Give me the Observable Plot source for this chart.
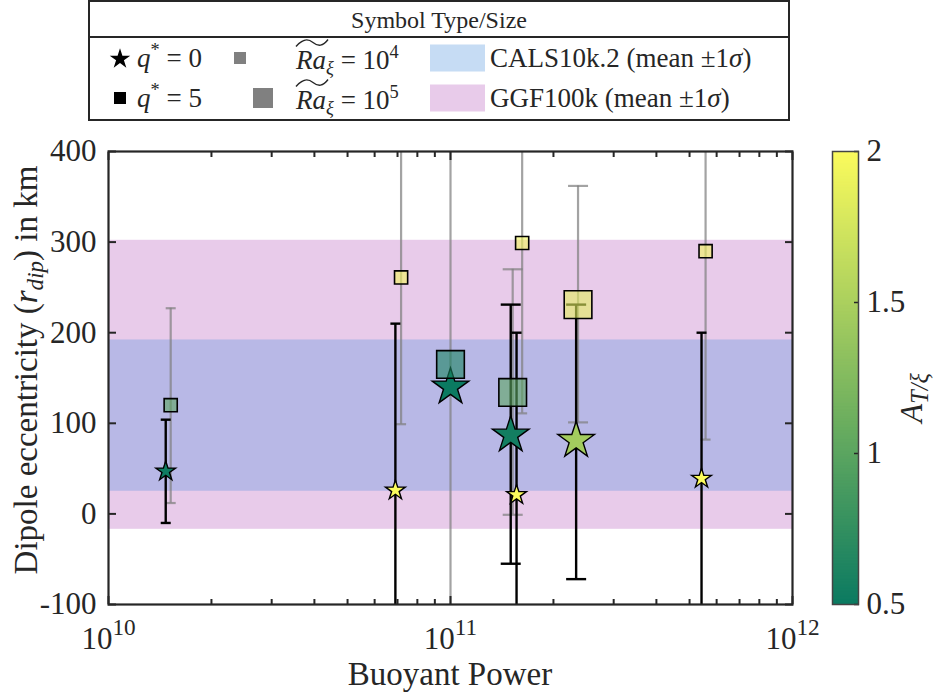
<!DOCTYPE html>
<html><head><meta charset="utf-8">
<script src="https://cdn.jsdelivr.net/npm/d3@7"></script>
<script src="https://cdn.jsdelivr.net/npm/@observablehq/plot@0.6"></script>
<style>
body{margin:0;background:#fff;width:940px;height:695px;position:relative;overflow:hidden;font-family:"Liberation Serif",Tinos,"Times New Roman","Nimbus Roman",FreeSerif,"Noto Serif","DejaVu Serif",Georgia,serif;color:#262626}
#main{position:absolute;left:0;top:0}
#cbar{position:absolute;left:820px;top:0}
#legend{position:absolute;left:88px;top:0;width:698px;height:117px;border:2px solid #262626;background:#fff;z-index:2}
#lhead{position:absolute;left:0;top:0;width:698px;height:34px;border-bottom:2px solid #262626;text-align:center;font-size:24px;line-height:36px}
.it{position:absolute;font-size:27px;white-space:nowrap;line-height:1;transform:translateY(-50%)}
.sw{position:absolute;width:55px;height:27px;transform:translateY(-50%)}
.mk{position:absolute;transform:translate(-50%,-50%)}
sup{font-size:0.68em;vertical-align:0.55em;line-height:0}
sub{font-size:0.68em;vertical-align:-0.3em;line-height:0}
.wt{position:relative;display:inline-block}
.wt svg{position:absolute;left:-2px;top:-9px}
</style></head>
<body>
<div id="legend">
  <div id="lhead">Symbol Type/Size</div>
  <svg class="mk" id="lgstar" style="left:30px;top:56px" width="22" height="22"></svg>
  <div class="it" style="left:47px;top:56px"><i>q</i><sup>*</sup> = 0</div>
  <div class="mk" style="left:150px;top:56px;width:12px;height:12px;background:#808080"></div>
  <div class="it" style="left:206px;top:58px"><span class="wt"><i>Ra</i><svg class="tilde" width="36" height="12"></svg></span><sub><i>ξ</i></sub> = 10<sup>4</sup></div>
  <div class="sw" style="left:340px;top:56px;background:#c6dcf4"></div>
  <div class="it" style="left:400px;top:56px">CALS10k.2 (mean ±1<i>σ</i>)</div>
  <div class="mk" style="left:30px;top:96px;width:12px;height:12px;background:#000"></div>
  <div class="it" style="left:47px;top:96px"><i>q</i><sup>*</sup> = 5</div>
  <div class="mk" style="left:173px;top:96px;width:20px;height:20px;background:#808080"></div>
  <div class="it" style="left:206px;top:98px"><span class="wt"><i>Ra</i><svg class="tilde" width="36" height="12"></svg></span><sub><i>ξ</i></sub> = 10<sup>5</sup></div>
  <div class="sw" style="left:340px;top:96px;background:#e8cbea"></div>
  <div class="it" style="left:400px;top:96px">GGF100k (mean ±1<i>σ</i>)</div>
</div>
<script>
// ---- data ----
// q* = 0 runs (stars)
const powerStar = [1.47e10, 6.9e10, 1.0e11, 1.50e11, 1.56e11, 2.33e11, 5.42e11];
const rdipStar  = [47, 26, 140, 87, 21, 81, 39];
const loStar    = [-10, -400, null, -55, -400, -72, -400];
const hiStar    = [104, 210, null, 231, 200, 231, 200];
const aStar     = [0.52, 2.0, 0.5, 0.55, 2.0, 1.45, 2.0];
const raStar    = [1e4, 1e4, 1e5, 1e5, 1e4, 1e5, 1e4];
// q* = 5 runs (squares)
const powerSq = [1.52e10, 7.17e10, 1.0e11, 1.52e11, 1.62e11, 2.36e11, 5.57e11];
const rdipSq  = [120, 261, 165, 134, 299, 231, 290];
const loSq    = [12, 99, -400, -1, 111, 101, 82];
const hiSq    = [227, 700, 700, 270, 700, 362, 700];
const aSq     = [1.0, 1.95, 0.6, 1.0, 1.95, 1.85, 1.95];
const raSq    = [1e4, 1e4, 1e5, 1e5, 1e4, 1e5, 1e4];
// reference bands (mean ± 1 sigma)
const bandNames = ["GGF100k", "CALS10k.2"];
const bandLo = [-17, 25];
const bandHi = [302, 192];
// ticks
const yTicks = [-100, 0, 100, 200, 300, 400];
const xMajor = [1e10, 1e11, 1e12];
const xMinor = [2e10,3e10,4e10,5e10,6e10,7e10,8e10,9e10,2e11,3e11,4e11,5e11,6e11,7e11,8e11,9e11];
const cTicks = [0.5, 1, 1.5, 2];

const stars = powerStar.map((p,i)=>({power:p, rdip:rdipStar[i], lo:loStar[i], hi:hiStar[i], A:aStar[i], ra:raStar[i]}));
const squares = powerSq.map((p,i)=>({power:p, rdip:rdipSq[i], lo:loSq[i], hi:hiSq[i], A:aSq[i], ra:raSq[i]}));
const bands = bandNames.map((n,i)=>({name:n, lo:bandLo[i], hi:bandHi[i]}));
const bandFill = {"GGF100k":"#e8cbea", "CALS10k.2":"#b8b8e6"};

const colorOpts = {type:"linear", domain:[0.5, 2], range:["#0b7a61", "#fbfb5d"], interpolate:"rgb"};
const cap = {draw(ctx, size){ const w = Math.sqrt(size/Math.PI); ctx.moveTo(-w,0); ctx.lineTo(w,0); }};
const ink = "#262626";
const font = getComputedStyle(document.body).fontFamily;

const starBars = stars.filter(d => d.lo != null);
const small = d => d.ra === 1e4, big = d => d.ra === 1e5;

const main = Plot.plot({
  width: 940, height: 695,
  marginTop: 151, marginBottom: 91, marginLeft: 108, marginRight: 148,
  style: {fontFamily: font, fontSize: "31px", color: ink, background: "transparent", overflow: "visible"},
  x: {type: "log", domain: [1e10, 1e12]},
  y: {domain: [-100, 400]},
  color: colorOpts,
  marks: [
    Plot.rect(bands, {y1: "lo", y2: "hi", fill: d => bandFill[d.name]}),
    // grey error bars (q*=5)
    Plot.ruleX(squares, {x: "power", y1: "lo", y2: "hi", stroke: "#808080", strokeOpacity: 0.72, strokeWidth: 2.2, clip: true}),
    Plot.dot(squares.filter(small), {x: "power", y: "lo", symbol: cap, r: 5, stroke: "#808080", strokeOpacity: 0.72, strokeWidth: 2.2, clip: true}),
    Plot.dot(squares.filter(small), {x: "power", y: "hi", symbol: cap, r: 5, stroke: "#808080", strokeOpacity: 0.72, strokeWidth: 2.2, clip: true}),
    Plot.dot(squares.filter(big), {x: "power", y: "lo", symbol: cap, r: 10, stroke: "#808080", strokeOpacity: 0.72, strokeWidth: 2.2, clip: true}),
    Plot.dot(squares.filter(big), {x: "power", y: "hi", symbol: cap, r: 10, stroke: "#808080", strokeOpacity: 0.72, strokeWidth: 2.2, clip: true}),
    // black error bars (q*=0)
    Plot.ruleX(starBars, {x: "power", y1: "lo", y2: "hi", stroke: "#000", strokeWidth: 2.4, clip: true}),
    Plot.dot(starBars.filter(small), {x: "power", y: "lo", symbol: cap, r: 5, stroke: "#000", strokeWidth: 2.4, clip: true}),
    Plot.dot(starBars.filter(small), {x: "power", y: "hi", symbol: cap, r: 5, stroke: "#000", strokeWidth: 2.4, clip: true}),
    Plot.dot(starBars.filter(big), {x: "power", y: "lo", symbol: cap, r: 10, stroke: "#000", strokeWidth: 2.4, clip: true}),
    Plot.dot(starBars.filter(big), {x: "power", y: "hi", symbol: cap, r: 10, stroke: "#000", strokeWidth: 2.4, clip: true}),
    // markers
    Plot.dot(stars.filter(small), {x: "power", y: "rdip", symbol: "star", r: 6.2, fill: "A", stroke: "#000", strokeWidth: 1.4}),
    Plot.dot(stars.filter(big), {x: "power", y: "rdip", symbol: "star", r: 11.5, fill: "A", stroke: "#000", strokeWidth: 1.4}),
    Plot.dot(squares.filter(small), {x: "power", y: "rdip", symbol: "square", r: 7.4, fill: "A", fillOpacity: 0.6, stroke: "#000", strokeWidth: 1.6}),
    Plot.dot(squares.filter(big), {x: "power", y: "rdip", symbol: "square", r: 15.6, fill: "A", fillOpacity: 0.6, stroke: "#000", strokeWidth: 1.6}),
    // axes (inward ticks, MATLAB style box)
    Plot.axisY({anchor: "left", ticks: yTicks, tickSize: -8, tickPadding: 20, strokeWidth: 2, stroke: ink, label: null, tickFormat: d => String(d)}),
    Plot.axisY({anchor: "right", ticks: yTicks, tickSize: -8, strokeWidth: 2, stroke: ink, label: null, tickFormat: () => ""}),
    Plot.axisX({anchor: "bottom", ticks: xMajor, tickSize: -8, tickPadding: 30, strokeWidth: 2, stroke: ink, label: null, tickFormat: d => "10^" + Math.round(Math.log10(d))}),
    Plot.axisX({anchor: "bottom", ticks: xMinor, tickSize: -5, strokeWidth: 2, stroke: ink, label: null, tickFormat: () => ""}),
    Plot.axisX({anchor: "top", ticks: xMajor, tickSize: -8, strokeWidth: 2, stroke: ink, label: null, tickFormat: () => ""}),
    Plot.axisX({anchor: "top", ticks: xMinor, tickSize: -5, strokeWidth: 2, stroke: ink, label: null, tickFormat: () => ""}),
    Plot.frame({stroke: ink, strokeWidth: 2.2})
  ]
});
main.id = "main";
document.body.appendChild(main);

const svgm = d3.select(main);
svgm.selectAll("text").each(function(){
  const t = this.textContent, m = /^10\^(\d+)$/.exec(t);
  if (m) {
    const el = d3.select(this); el.text("");
    el.append("tspan").text("10");
    el.append("tspan").attr("dy", "-0.6em").attr("font-size", "0.75em").text(m[1]);
  }
});
// axis titles
svgm.append("text").attr("x", 450).attr("y", 685).attr("text-anchor", "middle").attr("fill", ink)
  .attr("font-family", font).attr("font-size", 33).text("Buoyant Power");
const yl = svgm.append("text").attr("transform", "translate(37,370) rotate(-90)").attr("text-anchor", "middle")
  .attr("fill", ink).attr("font-family", font).attr("font-size", 33);
yl.append("tspan").text("Dipole eccentricity (");
yl.append("tspan").attr("font-style", "italic").text("r");
yl.append("tspan").attr("font-style", "italic").attr("font-size", "0.7em").attr("dy", "0.25em").text("dip");
yl.append("tspan").attr("dy", "-0.18em").text(") in km");

// ---- colorbar ----
const step = 0.005;
const cbar = Plot.plot({
  width: 120, height: 695,
  marginTop: 151, marginBottom: 91, marginLeft: 12, marginRight: 82,
  style: {fontFamily: font, fontSize: "31px", color: ink, background: "transparent", overflow: "visible"},
  y: {domain: [0.5, 2]},
  color: colorOpts,
  marks: [
    Plot.rect(d3.range(0.5, 2, step), {y1: d => d, y2: d => Math.min(2, d + step * 1.6), fill: d => d + step / 2}),
    Plot.axisY({anchor: "right", ticks: cTicks, tickSize: -5, tickPadding: 13, strokeWidth: 1.5, stroke: ink, label: null, tickFormat: d => String(d)}),
    Plot.frame({stroke: "#444", strokeWidth: 1.5})
  ]
});
cbar.id = "cbar";
document.body.appendChild(cbar);
const cl = d3.select(cbar).append("text").attr("transform", "translate(102,398) rotate(-90)").attr("text-anchor", "middle")
  .attr("fill", ink).attr("font-family", font).attr("font-size", 31);
cl.append("tspan").attr("font-style", "italic").text("A");
cl.append("tspan").attr("font-style", "italic").attr("font-size", "0.78em").attr("dy", "0.25em").text("T/ξ");

// legend glyphs
d3.select("#lgstar").append("path").attr("transform", "translate(11,12)")
  .attr("d", d3.symbol(d3.symbolStar, 130)()).attr("fill", "#000");
d3.selectAll("svg.tilde").append("path")
  .attr("d", "M2,9 C9,1 14,1 19,5 C24,9 29,9 34,2")
  .attr("fill", "none").attr("stroke", ink).attr("stroke-width", 1.4);
</script>
</body></html>
